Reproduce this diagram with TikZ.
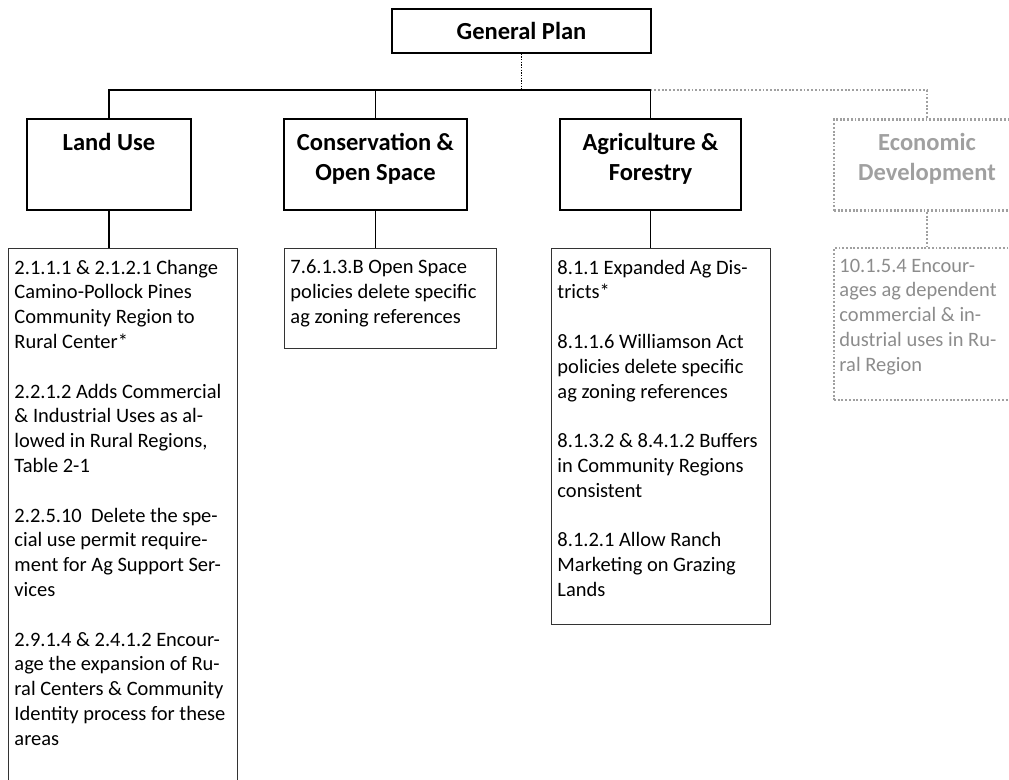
\documentclass[tikz,border=0pt]{standalone}
\usepackage{fontspec}
\setmainfont{Carlito}
\usetikzlibrary{positioning}
\definecolor{edgray}{HTML}{A0A0A0}
\definecolor{edtext}{HTML}{8C8C8C}
\tikzset{
  hbox/.style={draw=black, line width=1.1pt, rectangle, inner sep=0pt},
  tbox/.style={draw=black!80, line width=0.7pt, rectangle, inner sep=0pt},
  ebox/.style={draw=edgray, line width=2.2pt, dash pattern=on 1.4pt off 1.4pt, rectangle, inner sep=0pt},
  htext/.style={font=\bfseries\fontsize{18.4}{22.5}\selectfont, align=center, inner sep=0pt},
  btext/.style={font=\fontsize{15.35}{18.6}\selectfont, align=left, inner sep=0pt, anchor=north west},
  conn/.style={draw=black, line width=1.1pt},
  gpconn/.style={draw=black, line width=0.6pt, dash pattern=on 1pt off 1pt},
  econn/.style={draw=edgray, line width=2.2pt, dash pattern=on 1.4pt off 1.4pt},
}
\begin{document}
\begin{tikzpicture}[x=0.75pt, y=-0.75pt]
\useasboundingbox (0,0) rectangle (1009,779);
\clip (0,0) rectangle (1009,779);
% header boxes
\node[hbox, minimum width=194.25pt, minimum height=33pt] (gp) at (521.5,31) {};
\node[htext] at (gp.center) {General Plan};
\node[hbox, minimum width=123pt, minimum height=68.25pt] (lu) at (109,164.5) {};
\node[hbox, minimum width=137.25pt, minimum height=68.25pt] (co) at (375.5,164.5) {};
\node[hbox, minimum width=135.75pt, minimum height=68.25pt] (ag) at (650.5,164.5) {};
\node[ebox, minimum width=139.5pt, minimum height=68.25pt] (ec) at (927,165) {};
\node[htext, anchor=north] at ([yshift=-11pt]lu.north) {Land Use};
\node[htext, anchor=north] at ([yshift=-11pt]co.north) {Conservation \&\\Open Space};
\node[htext, anchor=north] at ([yshift=-11pt]ag.north) {Agriculture \&\\Forestry};
\node[htext, anchor=north, text=edgray] at ([yshift=-11pt]ec.north) {Economic\\Development};
% text boxes
\node[tbox, minimum width=171.75pt, minimum height=414pt] (lut) at (122.5,524) {};
\node[tbox, minimum width=159pt, minimum height=75pt] (cot) at (390,298) {};
\node[tbox, minimum width=164.25pt, minimum height=282pt] (agt) at (660.5,436) {};
\node[ebox, minimum width=147pt, minimum height=114pt] (ect) at (932,324) {};
\node[btext] at ([xshift=5pt, yshift=-9pt]lut.north west) {2.1.1.1 \& 2.1.2.1 Change\\Camino-Pollock Pines\\Community Region to\\Rural Center*\\[18.6pt]2.2.1.2 Adds Commercial\\\& Industrial Uses as al-\\lowed in Rural Regions,\\Table 2-1\\[18.6pt]2.2.5.10~ Delete the spe-\\cial use permit require-\\ment for Ag Support Ser-\\vices\\[18.6pt]2.9.1.4 \& 2.4.1.2 Encour-\\age the expansion of Ru-\\ral Centers \& Community\\Identity process for these\\areas};
\node[btext] at ([xshift=5pt, yshift=-9pt]cot.north west) {7.6.1.3.B Open Space\\policies delete specific\\ag zoning references};
\node[btext] at ([xshift=5pt, yshift=-9pt]agt.north west) {8.1.1 Expanded Ag Dis-\\tricts*\\[18.6pt]8.1.1.6 Williamson Act\\policies delete specific\\ag zoning references\\[18.6pt]8.1.3.2 \& 8.4.1.2 Buffers\\in Community Regions\\consistent\\[18.6pt]8.1.2.1 Allow Ranch\\Marketing on Grazing\\Lands};
\node[btext, text=edtext] at ([xshift=5pt, yshift=-9pt]ect.north west) {10.1.5.4 Encour-\\ages ag dependent\\commercial \& in-\\dustrial uses in Ru-\\ral Region};
% connectors
\coordinate (j) at (521.5,90);
\draw[gpconn] (gp.south) -- (j);
\draw[conn] (lu.north) -- (lu.north |- j) -- (ag.north |- j) -- (ag.north);
\draw[conn] (co.north |- j) -- (co.north);
\draw[econn] (ag.north |- j) -| (ec.north);
\draw[conn] (lu.south) -- (lu.south |- lut.north);
\draw[conn] (co.south) -- (co.south |- cot.north);
\draw[conn] (ag.south) -- (ag.south |- agt.north);
\draw[econn] (ec.south) -- (ec.south |- ect.north);
\end{tikzpicture}
\end{document}
